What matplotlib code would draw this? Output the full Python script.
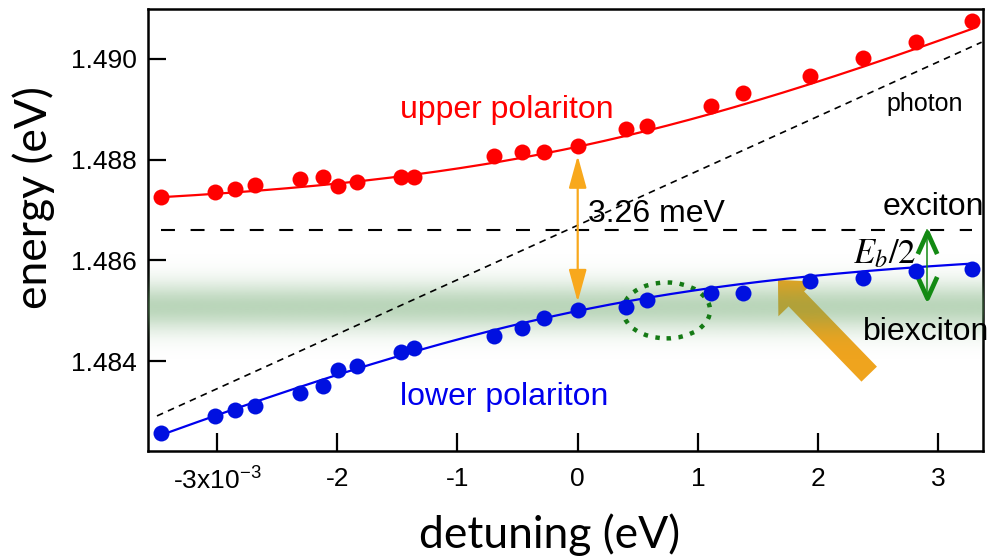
import numpy as np
import matplotlib
matplotlib.use("Agg")
import matplotlib.pyplot as plt
from matplotlib.path import Path
from matplotlib.patches import Ellipse

plt.rcParams['font.family'] = ['Liberation Sans', 'DejaVu Sans']
plt.rcParams['mathtext.fontset'] = 'custom'
plt.rcParams['mathtext.rm'] = 'Liberation Sans'
plt.rcParams['mathtext.it'] = 'Liberation Sans:italic'
plt.rcParams['mathtext.bf'] = 'Liberation Sans:bold'

# Measured polariton branches; detuning in units of 1e-3 eV, energies in eV
detuning = [-3.469, -3.020, -2.849, -2.682, -2.313, -2.121, -1.998, -1.839, -1.472, -1.358,
            -0.696, -0.466, -0.280, 0.000, 0.399, 0.579, 1.109, 1.378, 1.933, 2.371,
            2.815, 3.279]
upper_energy = [1.48725, 1.48736, 1.48742, 1.48750, 1.48761, 1.48766, 1.48748, 1.48755,
                1.48766, 1.48766, 1.48808, 1.48816, 1.48816, 1.48827, 1.48861, 1.48866,
                1.48907, 1.48932, 1.48965, 1.49001, 1.49034, 1.49076]
lower_energy = [1.48258, 1.48290, 1.48302, 1.48311, 1.48336, 1.48351, 1.48382, 1.48390,
                1.48417, 1.48425, 1.48450, 1.48466, 1.48485, 1.48502, 1.48507, 1.48521,
                1.48535, 1.48535, 1.48559, 1.48564, 1.48578, 1.48582]

# Coupled-oscillator model parameters
exciton_energy = 1.4866
cavity_energy0 = 1.48665
cavity_slope = 1.0
rabi_splitting = 3.26e-3

# Bare photon dispersion (dashed guide)
photon_detuning = [-3.50, 3.36]
photon_energy = [1.48291, 1.49033]

# Biexciton resonance (shaded band) and E_b/2 marker
biexciton_energy = 1.48508
biexciton_width = 0.00034
eb_half_energy = 1.48521
eb_arrow_detuning = 2.903

# Highlighted region and pump arrow
ellipse_center = (0.739, 1.485005)
ellipse_size = (0.724, 0.00111)
pump_tip = (1.666, 1.48561)
pump_tail = (2.425, 1.48374)

xtick_values = [-3, -2, -1, 0, 1, 2, 3]
xtick_labels = ['-3x10$^{-3}$', '-2', '-1', '0', '1', '2', '3']
ytick_values = [1.484, 1.486, 1.488, 1.490]
ytick_labels = ['1.484', '1.486', '1.488', '1.490']

xlim = (-3.575, 3.372)
ylim = (1.48222, 1.49099)

fig = plt.figure(figsize=(9.97, 5.58), dpi=100)
ax = fig.add_axes([0.1484, 0.1923, 0.986 - 0.1484, 0.9839 - 0.1923])

# biexciton band
ny = 500
yy = np.linspace(ylim[0], ylim[1], ny)
alpha = 0.43 * np.exp(-0.5 * ((yy - biexciton_energy) / biexciton_width) ** 2)
rgba = np.zeros((ny, 1, 4))
rgba[..., 0] = 95 / 255
rgba[..., 1] = 159 / 255
rgba[..., 2] = 95 / 255
rgba[:, 0, 3] = alpha
ax.imshow(rgba, extent=[xlim[0], xlim[1], ylim[0], ylim[1]], origin='lower',
          aspect='auto', interpolation='bilinear', zorder=3)

# pump arrow (under the band)
ax.annotate('', xy=pump_tip, xytext=pump_tail,
            arrowprops=dict(arrowstyle='simple,head_length=19,head_width=36,tail_width=15.5',
                            mutation_scale=1, color='#efa41e', lw=0,
                            shrinkA=0, shrinkB=0), zorder=2)

det = np.asarray(detuning)
d_fit = np.linspace(det[0], det[-1], 400)
cav = cavity_energy0 + cavity_slope * d_fit * 1e-3
mid = 0.5 * (cav + exciton_energy)
half = 0.5 * np.sqrt((cav - exciton_energy) ** 2 + rabi_splitting ** 2)

ax.plot(d_fit, mid + half, color='#ff0000', lw=1.6, zorder=5)
ax.plot(d_fit, mid - half, color='#0000ee', lw=1.6, zorder=5)
ax.plot(detuning, upper_energy, 'o', color='#ff0000', ms=11.5, mew=0, zorder=6)
ax.plot(detuning, lower_energy, 'o', color='#0010e0', ms=11.5, mew=0, zorder=6)

# exciton and photon guides
ax.plot([det[0], det[-1]], [exciton_energy, exciton_energy], color='black', lw=1.5,
        linestyle=(0, (6.7, 7.5)), zorder=4)
ax.plot(photon_detuning, photon_energy, color='black', lw=1.2,
        linestyle=(0, (4.0, 3.2)), zorder=4)

# Rabi splitting arrow at zero detuning
mid0 = 0.5 * (cavity_energy0 + exciton_energy)
half0 = 0.5 * np.sqrt((cavity_energy0 - exciton_energy) ** 2 + rabi_splitting ** 2)
ax.annotate('', xy=(0, mid0 - half0), xytext=(0, mid0 + half0),
            arrowprops=dict(arrowstyle='<|-|>,head_length=20,head_width=5.5',
                            mutation_scale=1, color='#f8a81c', lw=1.6,
                            shrinkA=6.5, shrinkB=6.5), zorder=4)

# E_b/2 double arrow
green = '#138a13'
ax.plot([eb_arrow_detuning, eb_arrow_detuning], [eb_half_energy, exciton_energy],
        color=green, lw=1.1, zorder=5)
up_head = Path([(-0.45, -1), (0, 0), (0.45, -1)],
               [Path.MOVETO, Path.LINETO, Path.LINETO])
down_head = Path([(-0.45, 1), (0, 0), (0.45, 1)],
                 [Path.MOVETO, Path.LINETO, Path.LINETO])
ax.plot([eb_arrow_detuning], [exciton_energy - 0.00004], marker=up_head, ms=31,
        mfc='none', mec=green, mew=3.4, zorder=5)
ax.plot([eb_arrow_detuning], [eb_half_energy + 0.00004], marker=down_head, ms=31,
        mfc='none', mec=green, mew=3.4, zorder=5)

# dotted ellipse
ax.add_patch(Ellipse(ellipse_center, ellipse_size[0], ellipse_size[1], fill=False,
                     edgecolor='#157a15', lw=3.2, linestyle=(0, (1, 1.7)), zorder=4))

# text labels
ax.text(-1.478, 1.488822, 'upper polariton', color='#ff0000', fontsize=23, zorder=7)
ax.text(-1.478, 1.483128, 'lower polariton', color='#0000ee', fontsize=23, zorder=7)
ax.text(2.571, 1.488967, 'photon', color='black', fontsize=18, zorder=7)
ax.text(2.540, 1.486902, 'exciton', color='black', fontsize=23, zorder=7)
ax.text(2.373, 1.484419, 'biexciton', color='black', fontsize=23, zorder=7)
ax.text(0.086, 1.486769, '%.2f meV' % (rabi_splitting * 1e3), color='black', fontsize=23,
        zorder=7)
ax.text(2.29, 1.485942, r'$E_b/2$', color='black', fontsize=25, math_fontfamily='stix',
        zorder=7)

ax.set_xlim(*xlim)
ax.set_ylim(*ylim)
ax.set_xticks(xtick_values)
ax.set_xticklabels(xtick_labels)
ax.set_yticks(ytick_values)
ax.set_yticklabels(ytick_labels)
ax.tick_params(direction='in', length=13, width=1.6, labelsize=19)
ax.tick_params(axis='x', pad=12)
ax.tick_params(axis='y', pad=8)
for s in ax.spines.values():
    s.set_linewidth(1.8)

ax.set_xlabel('detuning (eV)', fontfamily='Lato', fontsize=32)
ax.xaxis.label.set_va('baseline')
ax.xaxis.set_label_coords(0.4814, -0.2203)
ax.set_ylabel('energy (eV)', fontfamily='Lato', fontsize=32)
ax.yaxis.label.set_va('center')
ax.yaxis.set_label_coords(-0.1365, 0.5732)

fig.savefig('out.png', dpi=100)
